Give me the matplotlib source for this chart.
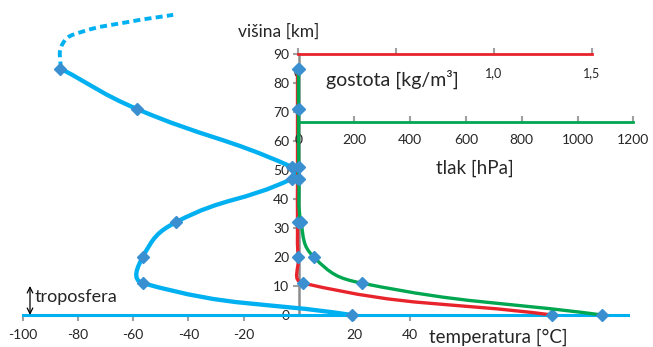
import numpy as np
import matplotlib.pyplot as plt
from matplotlib.path import Path
from matplotlib.patches import PathPatch

plt.rcParams['font.family'] = ['Lato', 'DejaVu Sans']
plt.rcParams['axes.unicode_minus'] = False

# višina [km] in temperatura [°C] (standardna atmosfera)
visina = [0, 11, 20, 32, 47, 51, 71, 85]
temperatura = [19, -56.5, -56.5, -44.5, -2.5, -2.5, -58.5, -86.3]
# nadaljevanje nad 85 km (črtkano)
visina_zgoraj = [85, 93.5, 97.5, 101, 103.5]
temperatura_zgoraj = [-86.3, -85.5, -79, -62, -45.5]
# gostota [kg/m3] in tlak [hPa] na istih višinah
gostota = [1.30, 0.028, 0.004, 0, 0, 0, 0, 0]
tlak = [1088, 226, 54.7, 8.7, 1.1, 0.67, 0.04, 0.004]

t_ticks = [-100, -80, -60, -40, -20, 20, 40]
v_ticks = [0, 10, 20, 30, 40, 50, 60, 70, 80, 90]
g_ticks = [0, 0.5, 1.0, 1.5]
g_labels = ['0', '', '1,0', '1,5']
p_ticks = [0, 200, 400, 600, 800, 1000, 1200]

# postavitev v pikslih
W, H = 653, 347
L, R, T, B = 10, 645, 5, 342
oy, sy = 315, 2.9            # višina: 0 km na pikslu 315
t0, st = 299, 2.765          # temperatura
g0, sg = 297.5, 196.0        # gostota
p0, sp = 298.5, 0.279        # tlak

modra = '#00B0F0'
rdeca = '#E8232B'
zelena = '#00A650'
marker_c = '#3A8FD0'
siva = '#A0A0A0'
besedilo = '#262626'


def meje(x0, s):
    return ((L - x0) / s, (R - x0) / s)


def gladka_pot(x, y, sx, sy, c=0.45):
    # gladka črta kot v Excelu: Bezier s tangentami skozi sosednje točke
    p = np.column_stack([np.asarray(x, float) * sx, np.asarray(y, float) * sy])
    n = len(p)
    tang = []
    for i in range(n):
        d = p[min(i + 1, n - 1)] - p[max(i - 1, 0)]
        tang.append(d / np.hypot(*d))
    verts = [p[0]]
    codes = [Path.MOVETO]
    for i in range(n - 1):
        dl = np.hypot(*(p[i + 1] - p[i]))
        verts += [p[i] + tang[i] * dl * c, p[i + 1] - tang[i + 1] * dl * c, p[i + 1]]
        codes += [Path.CURVE4] * 3
    verts = np.array(verts) / [sx, sy]
    return Path(verts, codes)


fig = plt.figure(figsize=(W / 100, H / 100), dpi=100)
rect = [L / W, 1 - B / H, (R - L) / W, (B - T) / H]
ylim = ((oy - B) / sy, (oy - T) / sy)

# glavna os: temperatura
ax = fig.add_axes(rect)
ax.set_xlim(meje(t0, st))
ax.set_ylim(ylim)
ax.patch.set_visible(False)
for s in ['top', 'right']:
    ax.spines[s].set_visible(False)
ax.spines['left'].set_position(('data', 0))
ax.spines['left'].set_bounds(0, 90)
ax.spines['left'].set_color('#8C8C8C')
ax.spines['left'].set_linewidth(1.8)
ax.spines['bottom'].set_position(('data', 0))
ax.spines['bottom'].set_bounds(-100, 119)
ax.spines['bottom'].set_color(modra)
ax.spines['bottom'].set_linewidth(2.2)
ax.set_xticks(t_ticks)
ax.set_xticklabels([str(t) for t in t_ticks])
ax.set_yticks(v_ticks)
ax.set_yticklabels([str(v) for v in v_ticks])
ax.tick_params(axis='x', direction='out', length=4, width=1.5, color=siva,
               labelsize=10, labelcolor=besedilo, pad=6)
ax.tick_params(axis='y', direction='out', length=4, width=1.5, color=siva,
               labelsize=10, labelcolor=besedilo, pad=3)

ax.add_patch(PathPatch(gladka_pot(temperatura, visina, st, sy), fill=False,
                       ec=modra, lw=3.1, capstyle='round', zorder=3))
ax.add_patch(PathPatch(gladka_pot(temperatura_zgoraj, visina_zgoraj, st, sy), fill=False,
                       ec=modra, lw=2.8, ls=(0, (1.8, 1.1)), zorder=3))
ax.plot(temperatura, visina, ls='none', marker='D', ms=6, color=marker_c, zorder=5)

# os gostote (rdeča)
ax_r = fig.add_axes(rect)
ax_r.set_xlim(meje(g0, sg))
ax_r.set_ylim(ylim)
ax_r.patch.set_visible(False)
for s in ['top', 'right', 'left']:
    ax_r.spines[s].set_visible(False)
ax_r.spines['bottom'].set_position(('data', 90))
ax_r.spines['bottom'].set_bounds(0, 1.5)
ax_r.spines['bottom'].set_color(rdeca)
ax_r.spines['bottom'].set_linewidth(2)
ax_r.set_yticks([])
ax_r.set_xticks(g_ticks)
ax_r.set_xticklabels(g_labels)
ax_r.tick_params(axis='x', direction='in', length=4, width=1.5, color=siva,
                 labelsize=9, labelcolor=besedilo, pad=9.5)
ax_r.add_patch(PathPatch(gladka_pot(gostota, visina, sg, sy), fill=False,
                         ec=rdeca, lw=2.4, zorder=3))
ax_r.plot(gostota, visina, ls='none', marker='D', ms=6, color=marker_c, zorder=5)

# os tlaka (zelena)
ax_g = fig.add_axes(rect)
ax_g.set_xlim(meje(p0, sp))
ax_g.set_ylim(ylim)
ax_g.patch.set_visible(False)
for s in ['top', 'right', 'left']:
    ax_g.spines[s].set_visible(False)
ax_g.spines['bottom'].set_position(('data', 66.65))
ax_g.spines['bottom'].set_bounds(0, 1200)
ax_g.spines['bottom'].set_color(zelena)
ax_g.spines['bottom'].set_linewidth(2)
ax_g.set_yticks([])
ax_g.set_xticks(p_ticks)
ax_g.set_xticklabels([str(p) for p in p_ticks])
ax_g.tick_params(axis='x', direction='in', length=4, width=1.5, color=siva,
                 labelsize=10, labelcolor=besedilo, pad=9)
ax_g.add_patch(PathPatch(gladka_pot(tlak, visina, sp, sy), fill=False,
                         ec=zelena, lw=2.4, zorder=3))
ax_g.plot(tlak, visina, ls='none', marker='D', ms=6, color=marker_c, zorder=5)


def napis(x, y, s, **kw):
    fig.text(x / W, 1 - y / H, s, color=besedilo, **kw)


napis(278.5, 32, 'višina [km]', ha='center', va='center', fontsize=12.5)
napis(392, 79, 'gostota [kg/m³]', ha='center', va='center', fontsize=14)
napis(475, 168, 'tlak [hPa]', ha='center', va='center', fontsize=13.5)
napis(498, 337, 'temperatura [°C]', ha='center', va='center', fontsize=13.5)
napis(35, 297, 'troposfera', ha='left', va='center', fontsize=13)
ax.annotate('', xy=(30 / W, 1 - 315 / H), xytext=(30 / W, 1 - 286 / H),
            xycoords='figure fraction', textcoords='figure fraction',
            arrowprops=dict(arrowstyle='<->', color='black', lw=0.9,
                            shrinkA=0, shrinkB=0))

fig.savefig('out.png', dpi=100)
